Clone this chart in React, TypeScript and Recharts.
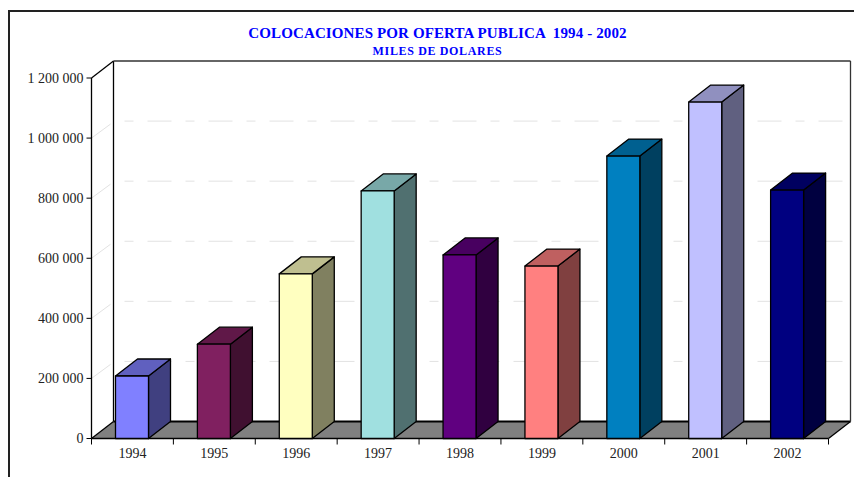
import { Bar, BarChart, CartesianGrid, XAxis, YAxis, usePlotArea } from "recharts";

const years = ["1994", "1995", "1996", "1997", "1998", "1999", "2000", "2001", "2002"];
const placements = [208000, 314000, 548000, 824000, 611000, 574000, 940000, 1120000, 827000];
const yTicks = [0, 200000, 400000, 600000, 800000, 1000000, 1200000];
const barColors = ["#8080ff", "#802060", "#ffffc0", "#a0e0e0", "#600080", "#ff8080", "#0080c0", "#c0c0ff", "#000080"];

const chartData = years.map((year, i) => ({ year, value: placements[i] }));

const font = "'Liberation Serif', serif";
const depthX = 22;
const depthY = 17;

// excel style shading of the top and side faces
function shade(hex: string, k: number) {
  const n = parseInt(hex.slice(1), 16);
  const c = [(n >> 16) & 255, (n >> 8) & 255, n & 255].map((v) => Math.round(v * k));
  return `rgb(${c[0]},${c[1]},${c[2]})`;
}

function Bar3D(props: any) {
  const { x, y, width, height, index } = props;
  const color = barColors[index];
  return (
    <g stroke="#000" strokeWidth={1.3} strokeLinejoin="round">
      <polygon
        fill={shade(color, 0.5)}
        points={`${x + width},${y} ${x + width + depthX},${y - depthY} ${x + width + depthX},${y + height - depthY} ${x + width},${y + height}`}
      />
      <polygon
        fill={shade(color, 0.75)}
        points={`${x},${y} ${x + depthX},${y - depthY} ${x + width + depthX},${y - depthY} ${x + width},${y}`}
      />
      <rect x={x} y={y} width={width} height={height} fill={color} />
    </g>
  );
}

function Walls() {
  const plot = usePlotArea();
  if (!plot) return null;
  const { x, y, width, height } = plot;
  const bottom = y + height;
  const right = x + width;
  return (
    <g strokeWidth={1.3}>
      <polygon
        fill="#808080"
        points={`${x},${bottom} ${x + depthX},${bottom - depthY} ${right + depthX},${bottom - depthY} ${right},${bottom}`}
      />
      <line x1={x + depthX} x2={right + depthX} y1={bottom - depthY} y2={bottom - depthY} stroke="#000" strokeWidth={2} />
      <line x1={x} x2={right} y1={bottom} y2={bottom} stroke="#000" />
      <line x1={x} x2={x + depthX} y1={bottom} y2={bottom - depthY} stroke="#000" />
      <line x1={right} x2={right + depthX} y1={bottom} y2={bottom - depthY} stroke="#000" />
      <line x1={x} x2={x} y1={y} y2={bottom} stroke="#000" />
      <line x1={x} x2={x + depthX} y1={y} y2={y - depthY} stroke="#000" />
      <line x1={x + depthX} x2={x + depthX} y1={y - depthY} y2={bottom - depthY} stroke="#000" />
      <line x1={x + depthX} x2={right + depthX} y1={y - depthY} y2={y - depthY} stroke="#333" strokeWidth={1.6} />
      <line x1={right + depthX} x2={right + depthX} y1={y - depthY} y2={bottom - depthY} stroke="#333" />
    </g>
  );
}

function GridLine(props: any) {
  const { x1, x2, y1, index } = props;
  if (index === 0 || y1 < 80 || y1 > 430) return <g />;
  return (
    <g stroke="#e2e2e2" fill="none">
      <line x1={x1} y1={y1} x2={x1 + depthX - 3} y2={y1 - depthY + 3} />
      <line x1={x1 + depthX} y1={y1 - depthY} x2={x2 + depthX} y2={y1 - depthY} strokeDasharray="9 14 24 14" strokeDashoffset={50} />
    </g>
  );
}

function YearTick(props: any) {
  const { x, y, payload, index } = props;
  const band = 737 / years.length;
  const axisY = y - 8;
  return (
    <g>
      <line x1={x - band / 2} x2={x - band / 2} y1={axisY} y2={axisY + 6} stroke="#000" />
      {index === years.length - 1 && <line x1={x + band / 2} x2={x + band / 2} y1={axisY} y2={axisY + 6} stroke="#000" />}
      <text x={x} y={axisY + 19} textAnchor="middle" fontFamily={font} fontSize={14} fill="#222">
        {payload.value}
      </text>
    </g>
  );
}

export default function App() {
  return (
    <div style={{ position: "absolute", left: 0, top: 0, width: 854, height: 477, overflow: "hidden", background: "#fff" }}>
      <div style={{ position: "absolute", left: 8, top: 10, width: 900, height: 500, borderLeft: "2px solid #222", borderTop: "2px solid #222" }} />
      <div style={{ position: "absolute", left: 0, top: 0 }}>
        <BarChart
          width={854}
          height={477}
          data={chartData}
          margin={{ top: 78, right: 25.5, bottom: 0, left: 0 }}
          barSize={33}
        >
          <text x={437.5} y={38} textAnchor="middle" fontFamily={font} fontSize={15} fontWeight="bold" fill="#0000ff" style={{ whiteSpace: "pre" }} letterSpacing={0.12}>
            COLOCACIONES POR OFERTA PUBLICA  1994 - 2002
          </text>
          <text x={437.5} y={55} textAnchor="middle" fontFamily={font} fontSize={12} fontWeight="bold" fill="#0000ff" letterSpacing={0.65}>
            MILES DE DOLARES
          </text>
          <Walls />
          <CartesianGrid vertical={false} horizontal={(p: any) => <GridLine key={p.key} {...p} />} />
          <XAxis dataKey="year" height={38.5} tickLine={false} axisLine={false} interval={0} tick={(p: any) => <YearTick {...p} />} />
          <YAxis
            width={91.5}
            domain={[0, 1200000]}
            ticks={yTicks}
            interval={0}
            axisLine={false}
            tickSize={5}
            tickMargin={3}
            stroke="#000"
            tick={{ fontFamily: font, fontSize: 14, fill: "#222" }}
            tickFormatter={(v: number) => String(v).replace(/\B(?=(\d{3})+$)/g, " ")}
          />
          <Bar dataKey="value" isAnimationActive={false} shape={(p: any) => <Bar3D {...p} />} />
        </BarChart>
      </div>
    </div>
  );
}
